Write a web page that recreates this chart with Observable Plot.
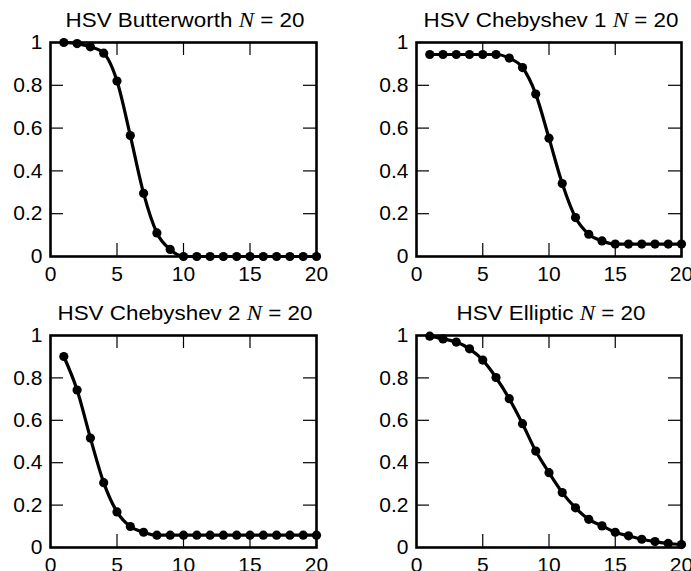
<!DOCTYPE html>
<html>
<head>
<meta charset="utf-8">
<script src="https://cdn.jsdelivr.net/npm/d3@7"></script>
<script src="https://cdn.jsdelivr.net/npm/@observablehq/plot@0.6"></script>
<style>
html, body { margin: 0; padding: 0; background: #fff; overflow: hidden; }
#chart { position: relative; width: 691px; height: 571px; font-family: "Liberation Sans", Arial, Helvetica, sans-serif; }
.panel { position: absolute; }
.panel svg { overflow: visible; }
.title { position: absolute; font-size: 20px; line-height: 1; white-space: nowrap; transform: translateX(-50%) scaleX(1.12); color: #000; }
.title i { font-family: "Liberation Serif", "Times New Roman", serif; font-size: 20.5px; }
</style>
</head>
<body>
<div id="chart"></div>
<script>
// ---- data ----
const xValues = [1, 2, 3, 4, 5, 6, 7, 8, 9, 10, 11, 12, 13, 14, 15, 16, 17, 18, 19, 20];
const butterworth = [1.0, 0.995, 0.98, 0.95, 0.82, 0.565, 0.295, 0.11, 0.033, 0.0, 0, 0, 0, 0, 0, 0, 0, 0, 0, 0];
const chebyshev1 = [0.944, 0.944, 0.944, 0.944, 0.944, 0.944, 0.927, 0.883, 0.759, 0.553, 0.341, 0.182, 0.104, 0.073, 0.058, 0.058, 0.058, 0.058, 0.058, 0.058];
const chebyshev2 = [0.901, 0.743, 0.516, 0.306, 0.168, 0.099, 0.072, 0.058, 0.058, 0.058, 0.058, 0.058, 0.058, 0.058, 0.058, 0.058, 0.058, 0.058, 0.058, 0.058];
const elliptic = [0.997, 0.984, 0.969, 0.937, 0.884, 0.802, 0.702, 0.584, 0.455, 0.353, 0.259, 0.187, 0.133, 0.102, 0.072, 0.055, 0.039, 0.028, 0.019, 0.014];

const panelNames = ["HSV Butterworth", "HSV Chebyshev 1", "HSV Chebyshev 2", "HSV Elliptic"];
const panelSeries = [butterworth, chebyshev1, chebyshev2, elliptic];
const xTickLabels = [0, 5, 10, 15, 20];
const yTickLabels = [0, 0.2, 0.4, 0.6, 0.8, 1];
const xInnerTicks = [5, 10, 15];
const yInnerTicks = [0.2, 0.4, 0.6, 0.8];
const orderN = 20;

// ---- layout ----
const layout = [
  {left: 0,   top: 0,   width: 345, height: 290, mt: 42, mb: 34, ml: 50, mr: 29},
  {left: 345, top: 0,   width: 346, height: 290, mt: 42, mb: 34, ml: 71, mr: 10},
  {left: 0,   top: 290, width: 345, height: 281, mt: 45, mb: 24, ml: 50, mr: 29},
  {left: 345, top: 290, width: 346, height: 281, mt: 45, mb: 24, ml: 71, mr: 10}
];
const tickLen = 13;

const chart = document.getElementById("chart");

panelSeries.forEach((series, i) => {
  const L = layout[i];
  const data = xValues.map((x, j) => ({x, y: series[j]}));
  const frameW = L.width - L.ml - L.mr;
  const frameH = L.height - L.mt - L.mb;

  const plot = Plot.plot({
    width: L.width,
    height: L.height,
    marginTop: L.mt,
    marginBottom: L.mb,
    marginLeft: L.ml,
    marginRight: L.mr,
    style: {fontFamily: '"Liberation Sans", Arial, Helvetica, sans-serif', fontSize: "21px", color: "#000", overflow: "visible", background: "transparent"},
    x: {domain: [0, 20]},
    y: {domain: [0, 1]},
    marks: [
      Plot.axisX(xTickLabels, {anchor: "bottom", tickSize: 0, tickPadding: 10, fontSize: 21, fill: "#000", tickFormat: d => String(d), label: null}),
      Plot.axisY(yTickLabels, {anchor: "left", tickSize: 0, tickPadding: 8, fontSize: 21, fill: "#000", tickFormat: d => String(d), label: null}),
      // inward ticks on all four sides
      Plot.ruleX(xInnerTicks, {x: d => d, insetTop: frameH - tickLen, stroke: "#000", strokeWidth: 1.2}),
      Plot.ruleX(xInnerTicks, {x: d => d, insetBottom: frameH - tickLen, stroke: "#000", strokeWidth: 1.2}),
      Plot.ruleY(yInnerTicks, {y: d => d, insetRight: frameW - tickLen, stroke: "#000", strokeWidth: 1.2}),
      Plot.ruleY(yInnerTicks, {y: d => d, insetLeft: frameW - tickLen, stroke: "#000", strokeWidth: 1.2}),
      Plot.frame({stroke: "#000", strokeWidth: 2.6}),
      Plot.line(data, {x: "x", y: "y", curve: "monotone-x", stroke: "#000", strokeWidth: 3.2}),
      Plot.dot(data, {x: "x", y: "y", r: 4.6, fill: "#000", stroke: "none"})
    ]
  });

  const wrap = document.createElement("div");
  wrap.className = "panel";
  wrap.style.left = L.left + "px";
  wrap.style.top = L.top + "px";
  wrap.appendChild(plot);
  chart.appendChild(wrap);

  const title = document.createElement("div");
  title.className = "title";
  title.innerHTML = `${panelNames[i]} <i>N</i> = ${orderN}`;
  title.style.left = (L.left + L.ml + frameW / 2 + 2) + "px";
  title.style.top = (L.top + L.mt - 31.6) + "px";
  chart.appendChild(title);
});
</script>
</body>
</html>
